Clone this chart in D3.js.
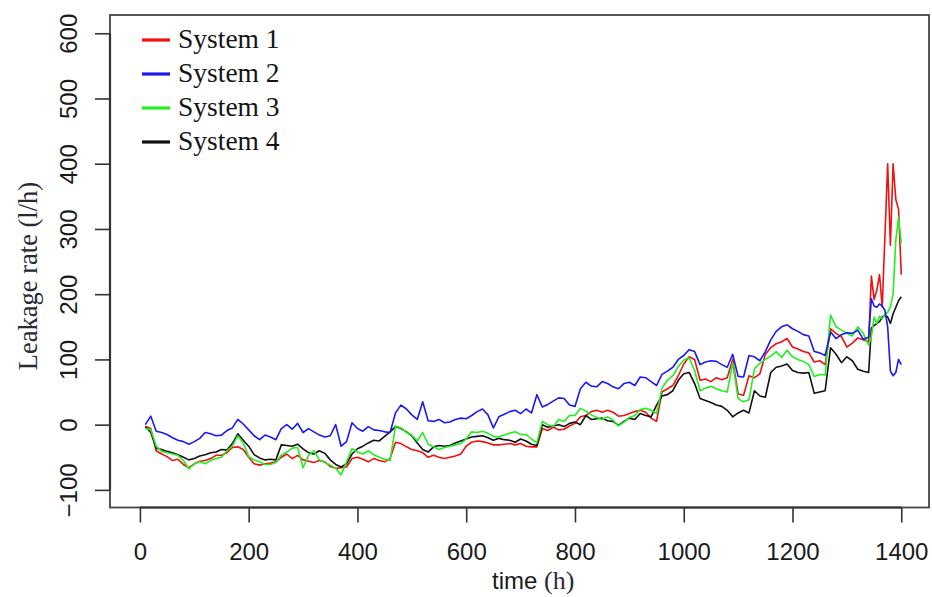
<!DOCTYPE html>
<html>
<head>
<meta charset="utf-8">
<script src="https://cdn.jsdelivr.net/npm/d3@7"></script>
<style>
  body { margin: 0; background: #fff; }
  svg { display: block; }
  .tick text { font-family: "Liberation Sans", Arial, sans-serif; font-size: 24px; fill: #1a1a1a; }
  .tick line { stroke: #333; stroke-width: 1.6; }
  .serif { font-family: "Liberation Serif", "Times New Roman", serif; }
</style>
</head>
<body>
<div id="chart"></div>
<script>
(function () {
    // time stamps: every 10 h, then every 5 h for the spiky tail
    const hours = d3.range(10, 1340, 10).concat(d3.range(1340, 1401, 5));

    const system1 = [
        -3, -6, -40, -45, -49, -55, -53, -61, -66, -60,
        -56, -55, -52, -47, -47, -43, -35, -34, -38, -50,
        -60, -62, -60, -59, -57, -50, -45, -52, -47, -54,
        -56, -58, -55, -57, -64, -67, -66, -65, -52, -50,
        -53, -57, -52, -55, -57, -52, -27, -29, -34, -38,
        -40, -43, -50, -47, -50, -52, -50, -48, -45, -33,
        -27, -25, -26, -28, -31, -31, -30, -29, -31, -29,
        -33, -34, -34, -6, -9, -4, -8, -7, -2, 2,
        12, 14, 20, 22, 19, 22, 19, 13, 14, 17,
        20, 22, 19, 10, 5, 50, 55, 60, 75, 93,
        104, 100, 68, 70, 66, 72, 69, 72, 100, 47,
        45, 75, 72, 78, 108, 118, 124, 127, 132, 119,
        116, 112, 110, 96, 98, 92, 147, 140, 135, 119,
        125, 133, 130,
        127, 228, 192, 206, 230, 180, 290, 400, 275, 400, 345, 330, 230
    ];
    const system2 = [
        0, 13, -10, -12, -15, -20, -24, -26, -30, -26,
        -21, -12, -14, -17, -16, -9, -5, 8, 1, -8,
        -17, -23, -16, -19, -23, -6, 0, -7, 2, -12,
        -6, -11, -16, -19, -17, 0, -33, -26, 3, -6,
        -10, -3, -8, -9, -11, -12, 18, 30, 24, 15,
        8, 35, 6, 5, 8, 3, 4, 8, 10, 9,
        14, 20, 24, 15, -5, 12, 16, 20, 22, 17,
        24, 18, 46, 27, 31, 36, 41, 40, 30, 28,
        55, 65, 59, 58, 66, 63, 58, 55, 63, 65,
        60, 73, 72, 66, 60, 77, 82, 88, 100, 106,
        115, 112, 92, 96, 98, 97, 92, 88, 108, 74,
        73, 106, 104, 98, 112, 130, 143, 150, 153, 147,
        143, 138, 136, 112, 110, 106, 142, 132, 138, 141,
        140, 145, 131,
        134, 193, 182, 180, 185, 182, 175, 150, 82, 75, 80, 100, 92
    ];
    const system3 = [
        -6, -8, -33, -41, -43, -45, -47, -55, -68, -60,
        -57, -60, -55, -52, -50, -40, -33, -17, -28, -49,
        -54, -57, -61, -61, -58, -47, -42, -36, -35, -66,
        -47, -40, -54, -58, -62, -67, -77, -57, -37, -42,
        -45, -40, -46, -50, -53, -55, -2, -5, -12, -16,
        -25, -12, -30, -34, -38, -35, -33, -31, -29, -22,
        -11, -12, -10, -13, -18, -19, -16, -13, -11, -15,
        -15, -22, -28, 5, 0, -3, 8, 5, 14, 14,
        25, 21, 15, 11, 8, 12, 7, -2, 4, 11,
        14, 23, 25, 22, 17, 56, 68, 75, 89, 99,
        102, 83, 52, 56, 59, 55, 52, 50, 95, 40,
        35, 38, 86, 94, 100, 105, 112, 103, 114, 104,
        100, 97, 92, 74, 77, 76, 168, 150, 145, 140,
        136, 150, 140,
        122, 135, 165, 155, 166, 162, 170, 172, 181, 200, 283, 318, 278
    ];
    const system4 = [
        -3, -12, -36, -38, -41, -43, -46, -50, -54, -52,
        -48, -46, -43, -42, -38, -39, -29, -14, -24, -33,
        -46, -51, -54, -53, -54, -31, -32, -33, -30, -37,
        -43, -45, -40, -44, -54, -61, -65, -60, -45, -37,
        -33, -28, -24, -25, -18, -11, -3, -6, -11, -17,
        -28, -38, -42, -34, -32, -33, -32, -28, -25, -22,
        -19, -18, -17, -20, -24, -21, -23, -24, -27, -22,
        -25, -30, -32, 0, -4, -2, 0, -3, 2, 4,
        0, 14, 8, 9, 10, 6, 5, -1, 5, 10,
        8, 17, 14, 12, 30, 44, 46, 52, 68, 78,
        80, 63, 40, 37, 34, 30, 28, 22, 12, 18,
        22, 18, 52, 44, 42, 80, 88, 90, 93, 83,
        80, 79, 80, 48, 50, 52, 118, 108, 95, 104,
        98, 85, 82,
        80, 148, 152, 155, 158, 165, 168, 165, 155, 170, 180, 190, 196
    ];

    const seriesNames = ["System 1", "System 2", "System 3", "System 4"];
    const seriesColors = ["#f01010", "#1a1af0", "#22ee22", "#111111"];
    const xTicks = [0, 200, 400, 600, 800, 1000, 1200, 1400];
    const yTicks = [-100, 0, 100, 200, 300, 400, 500, 600];

    const W = 932, H = 597;
    const box = { left: 110, right: 929, top: 15, bottom: 507.5 };

    const svg = d3.select("#chart").append("svg")
        .attr("width", W)
        .attr("height", H);

    const x = d3.scaleLinear().domain([-55, 1451]).range([box.left, box.right]);
    const y = d3.scaleLinear().domain([-127, 628]).range([box.bottom, box.top]);

    // lines, drawn in this order so green and blue sit on top like the original
    const drawOrder = [0, 3, 2, 1];
    const allSeries = [system1, system2, system3, system4];
    const line = d3.line()
        .x((d, i) => x(hours[i]))
        .y((d) => y(d));

    drawOrder.forEach((k) => {
        svg.append("path")
            .datum(allSeries[k])
            .attr("fill", "none")
            .attr("stroke", seriesColors[k])
            .attr("stroke-width", 1.6)
            .attr("stroke-linejoin", "round")
            .attr("d", line);
    });

    // plot frame
    svg.append("rect")
        .attr("x", box.left)
        .attr("y", box.top)
        .attr("width", box.right - box.left)
        .attr("height", box.bottom - box.top)
        .attr("fill", "none")
        .attr("stroke", "#444")
        .attr("stroke-width", 1.8);

    // x axis
    const xAxisG = svg.append("g")
        .attr("transform", `translate(0, ${box.bottom})`)
        .call(d3.axisBottom(x).tickValues(xTicks).tickSize(15).tickPadding(20).tickFormat(d3.format("d")));
    xAxisG.select(".domain").remove();
    svg.append("line")
        .attr("x1", x(0)).attr("x2", x(1400))
        .attr("y1", box.bottom).attr("y2", box.bottom)
        .attr("stroke", "#333").attr("stroke-width", 2.2);

    // y axis with rotated labels
    const yAxisG = svg.append("g")
        .attr("transform", `translate(${box.left}, 0)`)
        .call(d3.axisLeft(y).tickValues(yTicks).tickSize(15).tickFormat(d3.format("d")));
    yAxisG.select(".domain").remove();
    yAxisG.selectAll(".tick text")
        .attr("x", 0)
        .attr("y", -33)
        .attr("dy", null)
        .attr("transform", "rotate(-90)")
        .attr("text-anchor", "middle");
    svg.append("line")
        .attr("x1", box.left).attr("x2", box.left)
        .attr("y1", y(-100)).attr("y2", y(600))
        .attr("stroke", "#333").attr("stroke-width", 2.2);

    // axis titles
    const xTitle = svg.append("text")
        .attr("x", 492)
        .attr("y", 589)
        .attr("font-size", 24)
        .attr("fill", "#1a1a1a")
        .style("font-family", "'Liberation Sans', Arial, sans-serif");
    xTitle.append("tspan").text("time ");
    xTitle.append("tspan").attr("class", "serif").attr("font-size", 26).attr("fill", "#2a2a35").text("(h)");

    svg.append("text")
        .attr("class", "serif")
        .attr("transform", "translate(37, 276) rotate(-90)")
        .attr("text-anchor", "middle")
        .attr("font-size", 26.5)
        .attr("fill", "#2a2a35")
        .text("Leakage rate (l/h)");

    // legend
    const legend = svg.append("g").attr("transform", "translate(142, 40)");
    seriesNames.forEach((name, i) => {
        const row = legend.append("g").attr("transform", `translate(0, ${i * 34})`);
        row.append("line")
            .attr("x1", 0).attr("x2", 28)
            .attr("stroke", seriesColors[i])
            .attr("stroke-width", 3.2);
        row.append("text")
            .attr("class", "serif")
            .attr("x", 36)
            .attr("y", 8)
            .attr("font-size", 27.5)
            .attr("fill", "#151515")
            .text(name);
    });
})();
</script>
</body>
</html>
